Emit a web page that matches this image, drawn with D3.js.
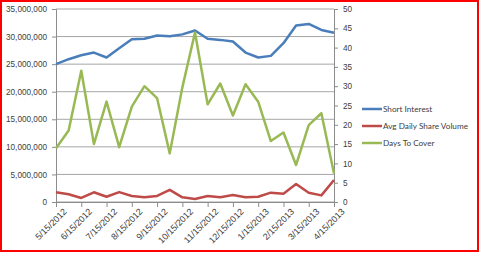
<!DOCTYPE html>
<html>
<head>
<meta charset="utf-8">
<script src="https://cdn.jsdelivr.net/npm/d3@7"></script>
<style>
  body { margin: 0; background: #fff; }
  svg { display: block; font-family: Lato, "Open Sans", sans-serif; }
</style>
</head>
<body>
<div id="chart"></div>
<script>
// reporting dates (twice a month)
const dates = [
  "5/15/2012", "5/31/2012", "6/15/2012", "6/29/2012", "7/15/2012", "7/31/2012",
  "8/15/2012", "8/31/2012", "9/15/2012", "9/28/2012", "10/15/2012", "10/31/2012",
  "11/15/2012", "11/30/2012", "12/15/2012", "12/31/2012", "1/15/2013", "1/31/2013",
  "2/15/2013", "2/28/2013", "3/15/2013", "3/28/2013", "4/15/2013"
];
// only mid-month dates get a label
const tickDates = dates.filter(d => d.split("/")[1] === "15");

const shortInterest = [
  25000000, 25900000, 26600000, 27100000, 26200000, 27900000, 29500000, 29600000,
  30200000, 30050000, 30400000, 31100000, 29600000, 29400000, 29100000, 27100000,
  26200000, 26500000, 28800000, 32000000, 32300000, 31200000, 30700000
];
const avgVolume = [
  1760000, 1400000, 730000, 1760000, 960000, 1800000, 1090000, 850000,
  1100000, 2200000, 850000, 550000, 1090000, 850000, 1270000, 850000,
  960000, 1690000, 1500000, 3260000, 1690000, 1200000, 4000000
];
const daysToCover = [
  13.9, 18.5, 34.0, 15.0, 26.0, 14.2, 24.7, 30.0,
  26.9, 12.6, 29.7, 43.9, 25.3, 30.7, 22.4, 30.5,
  26.0, 15.8, 18.0, 9.6, 19.9, 23.0, 7.4
];

const leftTicks = [0, 5000000, 10000000, 15000000, 20000000, 25000000, 30000000, 35000000];
const rightTicks = [0, 5, 10, 15, 20, 25, 30, 35, 40, 45, 50];

const series = [
  { name: "Short Interest", values: shortInterest, color: "#4a7ebb", axis: "left" },
  { name: "Avg Daily Share Volume", values: avgVolume, color: "#be4b48", axis: "left" },
  { name: "Days To Cover", values: daysToCover, color: "#98b954", axis: "right" }
];

const width = 480, height = 253;
const margin = { top: 9, right: 146, bottom: 51, left: 56 };
const plotW = width - margin.left - margin.right;
const plotH = height - margin.top - margin.bottom;
const fontSize = "8.2px";

const svg = d3.select("#chart").append("svg")
  .attr("width", width)
  .attr("height", height);

svg.append("rect")
  .attr("x", 1).attr("y", 1)
  .attr("width", width - 3).attr("height", height - 3)
  .attr("fill", "#fff")
  .attr("stroke", "#ff0000")
  .attr("stroke-width", 2);

const g = svg.append("g")
  .attr("transform", `translate(${margin.left},${margin.top})`);

const x = d3.scalePoint().domain(dates).range([0, plotW]);
const yL = d3.scaleLinear().domain([0, 35000000]).range([plotH, 0]);
const yR = d3.scaleLinear().domain([0, 50]).range([plotH, 0]);

// gridlines
g.append("g")
  .selectAll("line")
  .data(leftTicks)
  .join("line")
  .attr("x1", 0).attr("x2", plotW)
  .attr("y1", d => yL(d)).attr("y2", d => yL(d))
  .attr("stroke", "#a6a6a6")
  .attr("stroke-width", 1);

// left axis
const axL = g.append("g")
  .call(d3.axisLeft(yL).tickValues(leftTicks).tickSize(4).tickPadding(5)
    .tickFormat(d3.format(",")));
// right axis
const axR = g.append("g")
  .attr("transform", `translate(${plotW},0)`)
  .call(d3.axisRight(yR).tickValues(rightTicks).tickSize(4).tickPadding(5));
// bottom axis
const axB = g.append("g")
  .attr("transform", `translate(0,${plotH})`)
  .call(d3.axisBottom(x).tickValues(tickDates).tickSize(5).tickPadding(4));

[axL, axR, axB].forEach(ax => {
  ax.select(".domain").attr("stroke", "#8c8c8c");
  ax.selectAll(".tick line").attr("stroke", "#8c8c8c");
  ax.selectAll("text")
    .attr("fill", "#404040")
    .style("font-size", fontSize);
});

axB.selectAll("text")
  .style("font-size", "9px")
  .attr("text-anchor", "end")
  .attr("dx", "0.2em")
  .attr("dy", "0.5em")
  .attr("transform", "translate(0,2) rotate(-45)");

// lines
series.forEach(s => {
  const y = s.axis === "left" ? yL : yR;
  g.append("path")
    .datum(s.values)
    .attr("fill", "none")
    .attr("stroke", s.color)
    .attr("stroke-width", 2.5)
    .attr("stroke-linejoin", "round")
    .attr("d", d3.line()
      .x((d, i) => x(dates[i]))
      .y(d => y(d)));
});

// legend
const legend = svg.append("g")
  .attr("transform", "translate(362,109)");
const item = legend.selectAll("g")
  .data(series)
  .join("g")
  .attr("transform", (d, i) => `translate(0,${i * 17})`);
item.append("line")
  .attr("x1", 0).attr("x2", 20)
  .attr("stroke", d => d.color)
  .attr("stroke-width", 2.5);
item.append("text")
  .attr("x", 21)
  .attr("dy", "0.35em")
  .attr("fill", "#404040")
  .style("font-size", fontSize)
  .text(d => d.name);
</script>
</body>
</html>
